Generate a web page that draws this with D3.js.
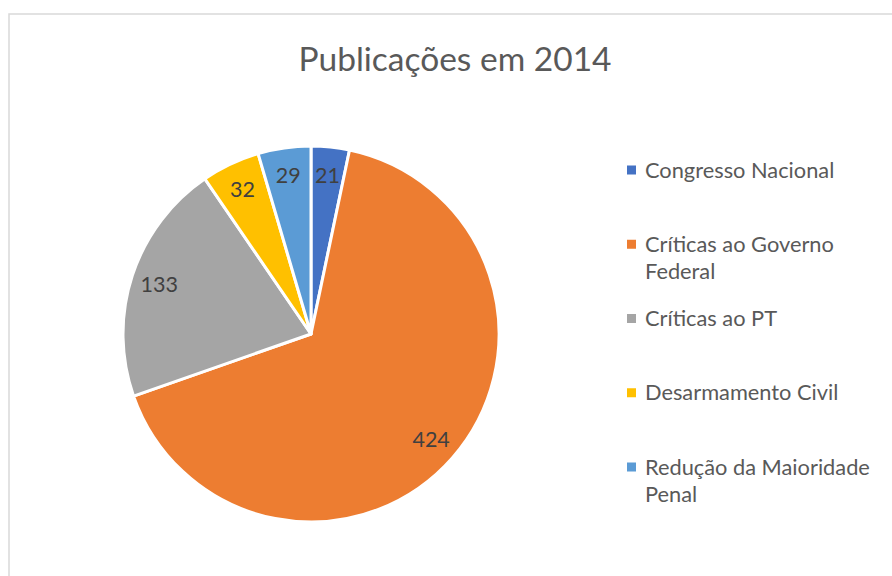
<!DOCTYPE html>
<html><head><meta charset="utf-8">
<script src="https://cdn.jsdelivr.net/npm/d3@7"></script>
<style>html,body{margin:0;padding:0;background:#fff;}svg{display:block;}</style>
</head><body>
<script>
const categories = ["Congresso Nacional", "Críticas ao Governo Federal", "Críticas ao PT", "Desarmamento Civil", "Redução da Maioridade Penal"];
const legendLines = [["Congresso Nacional"], ["Críticas ao Governo", "Federal"], ["Críticas ao PT"], ["Desarmamento Civil"], ["Redução da Maioridade", "Penal"]];
const values = [21, 424, 133, 32, 29];
const colors = ["#4472C4", "#ED7D31", "#A5A5A5", "#FFC000", "#5B9BD5"];
const title = "Publicações em 2014";

const W = 892, H = 576;
const svg = d3.select("body").append("svg").attr("width", W).attr("height", H);
const font = "Lato, 'Open Sans', sans-serif";

// chart border
svg.append("rect").attr("x", 9).attr("y", 14).attr("width", W + 10).attr("height", H + 10)
  .attr("fill", "none").attr("stroke", "#d9d9d9").attr("stroke-width", 1.5);

svg.append("text").attr("x", 455).attr("y", 71).attr("text-anchor", "middle")
  .attr("font-family", font).attr("font-size", 33.5).attr("fill", "#595959").text(title);

const cx = 311, cy = 334, R = 188;
const pie = d3.pie().sort(null).value(d => d)(values);
const arc = d3.arc().innerRadius(0).outerRadius(R);
const labelArc = d3.arc().innerRadius(R * 0.85).outerRadius(R * 0.85);
const g = svg.append("g").attr("transform", `translate(${cx},${cy})`);
g.selectAll("path").data(pie).join("path")
  .attr("d", arc).attr("fill", (d, i) => colors[i])
  .attr("stroke", "#fff").attr("stroke-width", 3).attr("stroke-linejoin", "round");
g.selectAll("text").data(pie).join("text")
  .attr("transform", d => `translate(${labelArc.centroid(d)})`)
  .attr("text-anchor", "middle").attr("dy", "0.35em")
  .attr("font-family", font).attr("font-size", 21.5).attr("fill", "#404040")
  .text(d => d.data);

const lg = svg.append("g");
const y0 = 170, step = 74.25, lh = 27;
legendLines.forEach((lines, i) => {
  const y = y0 + i * step;
  lg.append("rect").attr("x", 627).attr("y", y - 4.5).attr("width", 9).attr("height", 9).attr("fill", colors[i]);
  const t = lg.append("text").attr("font-family", font).attr("font-size", 21.8).attr("fill", "#595959");
  lines.forEach((l, j) => t.append("tspan").attr("x", 645).attr("y", y + j * lh).attr("dy", "0.35em").text(l));
});
</script>
</body></html>
